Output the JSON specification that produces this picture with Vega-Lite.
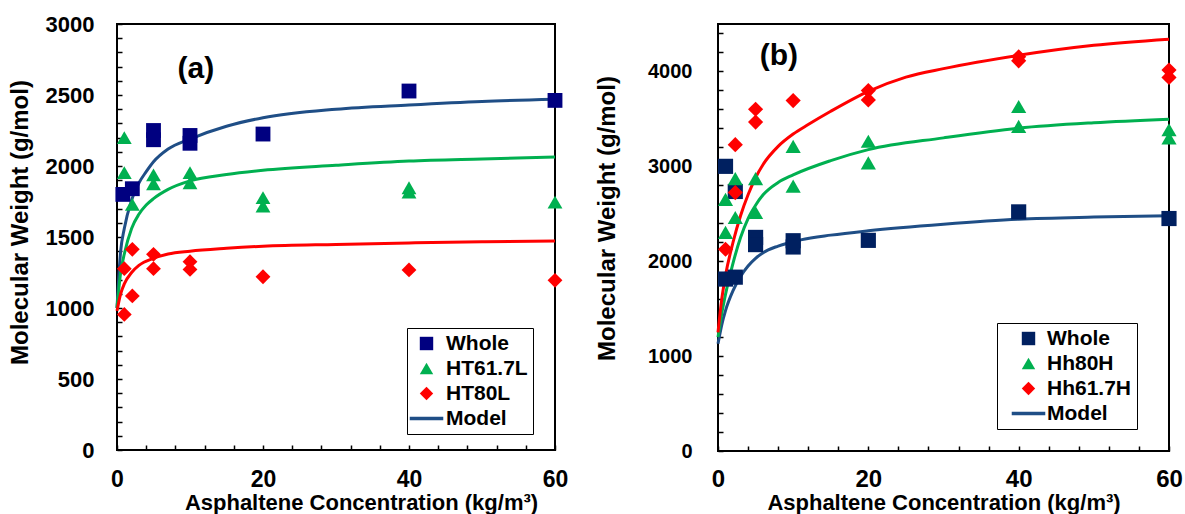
{
  "$schema": "https://vega.github.io/schema/vega-lite/v6.json",
  "background": "white",
  "padding": {"left": 7, "top": 12, "right": 2, "bottom": 2},
  "spacing": 24,
  "resolve": {
    "scale": {"color": "independent", "shape": "independent", "stroke": "independent", "x": "independent", "y": "independent"},
    "legend": {"color": "independent", "shape": "independent"}
  },
  "datasets": {
    "points_a": [
      {"c": 0.8, "mw": 1800, "series": "Whole"},
      {"c": 2.1, "mw": 1840, "series": "Whole"},
      {"c": 5, "mw": 2250, "series": "Whole"},
      {"c": 5, "mw": 2185, "series": "Whole"},
      {"c": 10, "mw": 2215, "series": "Whole"},
      {"c": 10, "mw": 2160, "series": "Whole"},
      {"c": 20, "mw": 2225, "series": "Whole"},
      {"c": 40, "mw": 2528, "series": "Whole"},
      {"c": 60, "mw": 2462, "series": "Whole"},
      {"c": 1, "mw": 2200, "series": "HT61.7L"},
      {"c": 1, "mw": 1953, "series": "HT61.7L"},
      {"c": 2.1, "mw": 1730, "series": "HT61.7L"},
      {"c": 5, "mw": 1937, "series": "HT61.7L"},
      {"c": 5, "mw": 1875, "series": "HT61.7L"},
      {"c": 10, "mw": 1953, "series": "HT61.7L"},
      {"c": 10, "mw": 1882, "series": "HT61.7L"},
      {"c": 20, "mw": 1777, "series": "HT61.7L"},
      {"c": 20, "mw": 1718, "series": "HT61.7L"},
      {"c": 40, "mw": 1847, "series": "HT61.7L"},
      {"c": 40, "mw": 1817, "series": "HT61.7L"},
      {"c": 60, "mw": 1746, "series": "HT61.7L"},
      {"c": 1, "mw": 1277, "series": "HT80L"},
      {"c": 1, "mw": 955, "series": "HT80L"},
      {"c": 2.1, "mw": 1413, "series": "HT80L"},
      {"c": 2.1, "mw": 1085, "series": "HT80L"},
      {"c": 5, "mw": 1378, "series": "HT80L"},
      {"c": 5, "mw": 1277, "series": "HT80L"},
      {"c": 10, "mw": 1326, "series": "HT80L"},
      {"c": 10, "mw": 1272, "series": "HT80L"},
      {"c": 20, "mw": 1220, "series": "HT80L"},
      {"c": 40, "mw": 1268, "series": "HT80L"},
      {"c": 60, "mw": 1195, "series": "HT80L"}
    ],
    "lines_a": [
      {"c": 0, "mw": 1000, "curve": "Whole"}, {"c": 0.5, "mw": 1400, "curve": "Whole"}, {"c": 1, "mw": 1560, "curve": "Whole"}, {"c": 2, "mw": 1760, "curve": "Whole"}, {"c": 3, "mw": 1880, "curve": "Whole"}, {"c": 4, "mw": 1960, "curve": "Whole"}, {"c": 5, "mw": 2030, "curve": "Whole"}, {"c": 7, "mw": 2120, "curve": "Whole"}, {"c": 10, "mw": 2190, "curve": "Whole"}, {"c": 15, "mw": 2280, "curve": "Whole"}, {"c": 20, "mw": 2340, "curve": "Whole"}, {"c": 30, "mw": 2400, "curve": "Whole"}, {"c": 40, "mw": 2430, "curve": "Whole"}, {"c": 50, "mw": 2455, "curve": "Whole"}, {"c": 60, "mw": 2470, "curve": "Whole"},
      {"c": 0, "mw": 1000, "curve": "HT61.7L"}, {"c": 0.5, "mw": 1250, "curve": "HT61.7L"}, {"c": 1, "mw": 1380, "curve": "HT61.7L"}, {"c": 2, "mw": 1560, "curve": "HT61.7L"}, {"c": 3, "mw": 1660, "curve": "HT61.7L"}, {"c": 4, "mw": 1725, "curve": "HT61.7L"}, {"c": 5, "mw": 1770, "curve": "HT61.7L"}, {"c": 7, "mw": 1835, "curve": "HT61.7L"}, {"c": 10, "mw": 1895, "curve": "HT61.7L"}, {"c": 15, "mw": 1940, "curve": "HT61.7L"}, {"c": 20, "mw": 1970, "curve": "HT61.7L"}, {"c": 30, "mw": 2005, "curve": "HT61.7L"}, {"c": 40, "mw": 2035, "curve": "HT61.7L"}, {"c": 50, "mw": 2050, "curve": "HT61.7L"}, {"c": 60, "mw": 2063, "curve": "HT61.7L"},
      {"c": 0, "mw": 980, "curve": "HT80L"}, {"c": 0.5, "mw": 1100, "curve": "HT80L"}, {"c": 1, "mw": 1170, "curve": "HT80L"}, {"c": 2, "mw": 1250, "curve": "HT80L"}, {"c": 3, "mw": 1300, "curve": "HT80L"}, {"c": 5, "mw": 1350, "curve": "HT80L"}, {"c": 7, "mw": 1380, "curve": "HT80L"}, {"c": 10, "mw": 1400, "curve": "HT80L"}, {"c": 15, "mw": 1420, "curve": "HT80L"}, {"c": 20, "mw": 1435, "curve": "HT80L"}, {"c": 30, "mw": 1448, "curve": "HT80L"}, {"c": 40, "mw": 1458, "curve": "HT80L"}, {"c": 50, "mw": 1466, "curve": "HT80L"}, {"c": 60, "mw": 1472, "curve": "HT80L"}
    ],
    "points_b": [
      {"c": 1, "mw": 3000, "series": "Whole"},
      {"c": 1, "mw": 1812, "series": "Whole"},
      {"c": 2.3, "mw": 2735, "series": "Whole"},
      {"c": 2.3, "mw": 1832, "series": "Whole"},
      {"c": 5, "mw": 2251, "series": "Whole"},
      {"c": 5, "mw": 2175, "series": "Whole"},
      {"c": 10, "mw": 2216, "series": "Whole"},
      {"c": 10, "mw": 2150, "series": "Whole"},
      {"c": 20, "mw": 2220, "series": "Whole"},
      {"c": 40, "mw": 2520, "series": "Whole"},
      {"c": 60, "mw": 2450, "series": "Whole"},
      {"c": 1, "mw": 2652, "series": "Hh80H"},
      {"c": 1, "mw": 2304, "series": "Hh80H"},
      {"c": 2.3, "mw": 2870, "series": "Hh80H"},
      {"c": 2.3, "mw": 2461, "series": "Hh80H"},
      {"c": 5, "mw": 2870, "series": "Hh80H"},
      {"c": 5, "mw": 2513, "series": "Hh80H"},
      {"c": 10, "mw": 3211, "series": "Hh80H"},
      {"c": 10, "mw": 2792, "series": "Hh80H"},
      {"c": 20, "mw": 3264, "series": "Hh80H"},
      {"c": 20, "mw": 3037, "series": "Hh80H"},
      {"c": 40, "mw": 3630, "series": "Hh80H"},
      {"c": 40, "mw": 3421, "series": "Hh80H"},
      {"c": 60, "mw": 3386, "series": "Hh80H"},
      {"c": 60, "mw": 3298, "series": "Hh80H"},
      {"c": 1, "mw": 2126, "series": "Hh61.7H"},
      {"c": 2.3, "mw": 3228, "series": "Hh61.7H"},
      {"c": 2.3, "mw": 2723, "series": "Hh61.7H"},
      {"c": 5, "mw": 3602, "series": "Hh61.7H"},
      {"c": 5, "mw": 3466, "series": "Hh61.7H"},
      {"c": 10, "mw": 3693, "series": "Hh61.7H"},
      {"c": 20, "mw": 3798, "series": "Hh61.7H"},
      {"c": 20, "mw": 3700, "series": "Hh61.7H"},
      {"c": 40, "mw": 4154, "series": "Hh61.7H"},
      {"c": 40, "mw": 4112, "series": "Hh61.7H"},
      {"c": 60, "mw": 4014, "series": "Hh61.7H"},
      {"c": 60, "mw": 3937, "series": "Hh61.7H"}
    ],
    "lines_b": [
      {"c": 0, "mw": 1130, "curve": "Whole"}, {"c": 0.5, "mw": 1330, "curve": "Whole"}, {"c": 1, "mw": 1480, "curve": "Whole"}, {"c": 2, "mw": 1690, "curve": "Whole"}, {"c": 3, "mw": 1840, "curve": "Whole"}, {"c": 4, "mw": 1950, "curve": "Whole"}, {"c": 5, "mw": 2030, "curve": "Whole"}, {"c": 6, "mw": 2090, "curve": "Whole"}, {"c": 8, "mw": 2160, "curve": "Whole"}, {"c": 11, "mw": 2225, "curve": "Whole"}, {"c": 15, "mw": 2275, "curve": "Whole"}, {"c": 20, "mw": 2321, "curve": "Whole"}, {"c": 30, "mw": 2390, "curve": "Whole"}, {"c": 40, "mw": 2443, "curve": "Whole"}, {"c": 50, "mw": 2465, "curve": "Whole"}, {"c": 60, "mw": 2478, "curve": "Whole"},
      {"c": 0, "mw": 1200, "curve": "Hh80H"}, {"c": 0.5, "mw": 1450, "curve": "Hh80H"}, {"c": 1, "mw": 1650, "curve": "Hh80H"}, {"c": 2, "mw": 1980, "curve": "Hh80H"}, {"c": 3, "mw": 2250, "curve": "Hh80H"}, {"c": 4, "mw": 2450, "curve": "Hh80H"}, {"c": 5, "mw": 2590, "curve": "Hh80H"}, {"c": 6, "mw": 2700, "curve": "Hh80H"}, {"c": 8, "mw": 2830, "curve": "Hh80H"}, {"c": 10, "mw": 2910, "curve": "Hh80H"}, {"c": 15, "mw": 3060, "curve": "Hh80H"}, {"c": 20, "mw": 3176, "curve": "Hh80H"}, {"c": 30, "mw": 3300, "curve": "Hh80H"}, {"c": 40, "mw": 3403, "curve": "Hh80H"}, {"c": 50, "mw": 3460, "curve": "Hh80H"}, {"c": 60, "mw": 3497, "curve": "Hh80H"},
      {"c": 0, "mw": 1250, "curve": "Hh61.7H"}, {"c": 0.5, "mw": 1600, "curve": "Hh61.7H"}, {"c": 1, "mw": 1850, "curve": "Hh61.7H"}, {"c": 2, "mw": 2200, "curve": "Hh61.7H"}, {"c": 3, "mw": 2480, "curve": "Hh61.7H"}, {"c": 4, "mw": 2700, "curve": "Hh61.7H"}, {"c": 5, "mw": 2880, "curve": "Hh61.7H"}, {"c": 6, "mw": 3020, "curve": "Hh61.7H"}, {"c": 8, "mw": 3210, "curve": "Hh61.7H"}, {"c": 10, "mw": 3340, "curve": "Hh61.7H"}, {"c": 12, "mw": 3440, "curve": "Hh61.7H"}, {"c": 15, "mw": 3580, "curve": "Hh61.7H"}, {"c": 20, "mw": 3790, "curve": "Hh61.7H"}, {"c": 25, "mw": 3940, "curve": "Hh61.7H"}, {"c": 30, "mw": 4030, "curve": "Hh61.7H"}, {"c": 40, "mw": 4170, "curve": "Hh61.7H"}, {"c": 50, "mw": 4275, "curve": "Hh61.7H"}, {"c": 60, "mw": 4340, "curve": "Hh61.7H"}
    ],
    "label_a": [{"c": 10.8, "mw": 2680, "label": "(a)"}],
    "label_b": [{"c": 8.1, "mw": 4160, "label": "(b)"}]
  },
  "hconcat": [
    {
      "width": 438,
      "height": 426,
      "encoding": {
        "x": {
          "field": "c", "type": "quantitative",
          "scale": {"domain": [0, 60], "nice": false},
          "axis": {
            "values": [0, 4, 8, 12, 16, 20, 24, 28, 32, 36, 40, 44, 48, 52, 56, 60],
            "labelExpr": "datum.value % 20 === 0 ? datum.label : ''",
            "labelFontSize": 23, "labelPadding": 23, "labelFlush": false, "labelOverlap": false,
            "title": "Asphaltene Concentration (kg/m³)", "titleFontSize": 22, "titlePadding": 1, "titleX": 244
          }
        },
        "y": {
          "field": "mw", "type": "quantitative",
          "scale": {"domain": [0, 3000], "nice": false},
          "axis": {
            "values": [0, 100, 200, 300, 400, 500, 600, 700, 800, 900, 1000, 1100, 1200, 1300, 1400, 1500, 1600, 1700, 1800, 1900, 2000, 2100, 2200, 2300, 2400, 2500, 2600, 2700, 2800, 2900, 3000],
            "labelExpr": "datum.value % 500 === 0 ? datum.label : ''",
            "format": "d",
            "labelFontSize": 22, "labelPadding": 28, "labelOverlap": false, "labelFlush": false,
            "title": "Molecular  Weight (g/mol)", "titleFontSize": 24, "titleX": -85, "titleY": 198
          }
        }
      },
      "layer": [
        {
          "data": {"name": "lines_a"},
          "mark": {"type": "line", "strokeWidth": 3, "interpolate": "monotone"},
          "encoding": {
            "stroke": {"field": "curve", "type": "nominal", "scale": {"domain": ["Whole", "HT61.7L", "HT80L"], "range": ["#1F4E86", "#00B050", "#FF0000"]}, "legend": null}
          }
        },
        {
          "data": {"name": "points_a"},
          "mark": {"type": "point", "filled": true, "opacity": 1, "size": 220},
          "encoding": {
            "color": {
              "field": "series", "type": "nominal",
              "scale": {"domain": ["Whole", "HT61.7L", "HT80L", "Model"], "range": ["#000080", "#00B050", "#FF0000", "#1F4E86"]},
              "legend": {
                "title": null, "orient": "none", "legendX": 290, "legendY": 304,
                "strokeColor": "black", "fillColor": "white", "padding": 5,
                "labelFontSize": 21, "labelFont": "Liberation Sans", "labelFontWeight": "bold", "labelColor": "black",
                "symbolSize": 180, "symbolOffset": 4, "labelOffset": 9, "rowPadding": 3
              }
            },
            "shape": {
              "field": "series", "type": "nominal",
              "scale": {"domain": ["Whole", "HT61.7L", "HT80L", "Model"], "range": ["square", "triangle-up", "diamond", "M-2.5,-0.26L2.5,-0.26L2.5,0.26L-2.5,0.26Z"]},
              "legend": {
                "title": null, "orient": "none", "legendX": 290, "legendY": 304,
                "strokeColor": "black", "fillColor": "white", "padding": 5,
                "labelFontSize": 21, "labelFont": "Liberation Sans", "labelFontWeight": "bold", "labelColor": "black",
                "symbolSize": 180, "symbolOffset": 4, "labelOffset": 9, "rowPadding": 3
              }
            }
          }
        },
        {
          "data": {"name": "label_a"},
          "mark": {"type": "text", "fontSize": 30, "fontWeight": "bold", "font": "Liberation Sans", "color": "black"},
          "encoding": {
            "text": {"field": "label", "type": "nominal"}
          }
        }
      ]
    },
    {
      "width": 451,
      "height": 427,
      "encoding": {
        "x": {
          "field": "c", "type": "quantitative",
          "scale": {"domain": [0, 60], "nice": false},
          "axis": {
            "values": [0, 4, 8, 12, 16, 20, 24, 28, 32, 36, 40, 44, 48, 52, 56, 60],
            "labelExpr": "datum.value % 20 === 0 ? datum.label : ''",
            "labelFontSize": 24, "labelPadding": 21, "labelFlush": false, "labelOverlap": false,
            "title": "Asphaltene Concentration (kg/m³)", "titleFontSize": 22, "titlePadding": 1
          }
        },
        "y": {
          "field": "mw", "type": "quantitative",
          "scale": {"domain": [0, 4500], "nice": false},
          "axis": {
            "values": [0, 200, 400, 600, 800, 1000, 1200, 1400, 1600, 1800, 2000, 2200, 2400, 2600, 2800, 3000, 3200, 3400, 3600, 3800, 4000, 4200, 4400],
            "labelExpr": "datum.value % 1000 === 0 ? datum.label : ''",
            "format": "d",
            "labelFontSize": 20, "labelPadding": 31, "labelOverlap": false, "labelFlush": false,
            "title": "Molecular  Weight (g/mol)", "titleFontSize": 24, "titleX": -99, "titleY": 194
          }
        }
      },
      "layer": [
        {
          "data": {"name": "lines_b"},
          "mark": {"type": "line", "strokeWidth": 3, "interpolate": "monotone"},
          "encoding": {
            "stroke": {"field": "curve", "type": "nominal", "scale": {"domain": ["Whole", "Hh80H", "Hh61.7H"], "range": ["#1F4E86", "#00B050", "#FF0000"]}, "legend": null}
          }
        },
        {
          "data": {"name": "points_b"},
          "mark": {"type": "point", "filled": true, "opacity": 1, "size": 230},
          "encoding": {
            "color": {
              "field": "series", "type": "nominal",
              "scale": {"domain": ["Whole", "Hh80H", "Hh61.7H", "Model"], "range": ["#002060", "#00B050", "#FF0000", "#1F4E86"]},
              "legend": {
                "title": null, "orient": "none", "legendX": 279, "legendY": 299,
                "strokeColor": "black", "fillColor": "white", "padding": 5,
                "labelFontSize": 21, "labelFont": "Liberation Sans", "labelFontWeight": "bold", "labelColor": "black",
                "symbolSize": 180, "symbolOffset": 16, "labelOffset": 8, "rowPadding": 3
              }
            },
            "shape": {
              "field": "series", "type": "nominal",
              "scale": {"domain": ["Whole", "Hh80H", "Hh61.7H", "Model"], "range": ["square", "triangle-up", "diamond", "M-2.5,-0.26L2.5,-0.26L2.5,0.26L-2.5,0.26Z"]},
              "legend": {
                "title": null, "orient": "none", "legendX": 279, "legendY": 299,
                "strokeColor": "black", "fillColor": "white", "padding": 5,
                "labelFontSize": 21, "labelFont": "Liberation Sans", "labelFontWeight": "bold", "labelColor": "black",
                "symbolSize": 180, "symbolOffset": 16, "labelOffset": 8, "rowPadding": 3
              }
            }
          }
        },
        {
          "data": {"name": "label_b"},
          "mark": {"type": "text", "fontSize": 30, "fontWeight": "bold", "font": "Liberation Sans", "color": "black"},
          "encoding": {
            "text": {"field": "label", "type": "nominal"}
          }
        }
      ]
    }
  ],
  "config": {
    "font": "Liberation Sans",
    "view": {"stroke": "black", "strokeWidth": 2},
    "axis": {
      "domain": false, "grid": false, "labelOverlap": false,
      "tickColor": "black", "tickWidth": 1.5, "tickSize": -5,
      "labelFont": "Liberation Sans", "labelFontWeight": "bold", "labelColor": "black",
      "titleFont": "Liberation Sans", "titleFontWeight": "bold", "titleColor": "black"
    }
  }
}
